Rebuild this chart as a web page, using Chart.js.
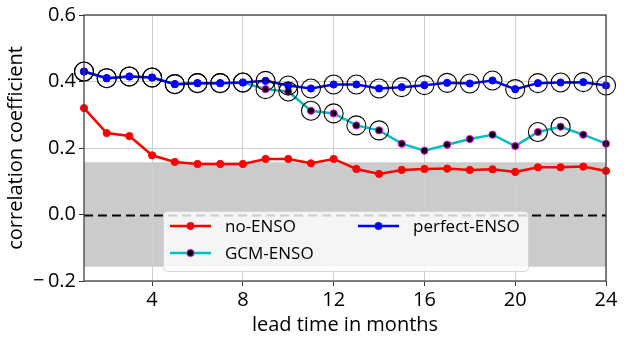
<!DOCTYPE html>
<html>
<head>
<meta charset="utf-8">
<script src="https://cdn.jsdelivr.net/npm/chart.js@4"></script>
<style>
  html, body { margin: 0; padding: 0; background: #fff; }
  #wrap { width: 624px; height: 337px; }
</style>
</head>
<body>
<div id="wrap"><canvas id="myChart" width="624" height="337"></canvas></div>
<script>
// lead time in months
const months = [1, 2, 3, 4, 5, 6, 7, 8, 9, 10, 11, 12, 13, 14, 15, 16, 17, 18, 19, 20, 21, 22, 23, 24];

const noEnso = [0.320, 0.245, 0.236, 0.178, 0.158, 0.152, 0.152, 0.152, 0.167, 0.167, 0.154, 0.167,
                0.137, 0.122, 0.134, 0.137, 0.138, 0.134, 0.136, 0.128, 0.142, 0.142, 0.144, 0.131];
const gcmEnso = [0.430, 0.410, 0.415, 0.412, 0.392, 0.395, 0.395, 0.397, 0.377, 0.370, 0.312, 0.304,
                 0.268, 0.253, 0.213, 0.192, 0.210, 0.227, 0.240, 0.206, 0.248, 0.264, 0.240, 0.213];
const perfectEnso = [0.430, 0.410, 0.415, 0.412, 0.392, 0.395, 0.395, 0.397, 0.402, 0.388, 0.379, 0.391,
                     0.391, 0.379, 0.383, 0.389, 0.396, 0.394, 0.403, 0.377, 0.395, 0.397, 0.398, 0.388];

// open circles mark significant skill (1 = circled)
const gcmSignif = [1, 1, 1, 1, 1, 1, 1, 1, 1, 1, 1, 1, 1, 1, 0, 0, 0, 0, 0, 0, 1, 1, 0, 0];
const perfectSignif = [1, 1, 1, 1, 1, 1, 1, 1, 1, 1, 1, 1, 1, 1, 1, 1, 1, 1, 1, 1, 1, 1, 1, 1];

// grey band = noise level
const noiseLevel = 0.157;

const xTicks = [4, 8, 12, 16, 20, 24];
const yTicks = [-0.2, 0.0, 0.2, 0.4, 0.6];

const FONT = "'Open Sans', 'Noto Sans', sans-serif";

function pts(arr) {
    return months.map((m, i) => ({ x: m, y: arr[i] }));
}
function circled(arr, flags) {
    return months.map((m, i) => ({ x: m, y: flags[i] ? arr[i] : null }));
}

const series = [
    { label: 'no-ENSO', data: noEnso, line: '#ff0000', fill: '#ff0000', edge: '#ff0000' },
    { label: 'GCM-ENSO', data: gcmEnso, line: '#00bfbf', fill: '#000000', edge: '#ff00ff' },
    { label: 'perfect-ENSO', data: perfectEnso, line: '#0000ff', fill: '#0000ff', edge: '#0000ff' }
];

// chart.js paints lower "order" on top
const datasets = series.map((s, i) => ({
    label: s.label,
    data: pts(s.data),
    order: 10 - i,
    borderColor: s.line,
    backgroundColor: s.fill,
    pointBackgroundColor: s.fill,
    pointBorderColor: s.edge,
    pointBorderWidth: 1,
    pointRadius: 3.6,
    borderWidth: 2.5,
    tension: 0,
    clip: false
}));

datasets.push({
    label: 'sig-gcm',
    data: circled(gcmEnso, gcmSignif),
    order: 2,
    showLine: false,
    pointRadius: 9.5,
    pointBorderColor: '#000',
    pointBorderWidth: 1.1,
    pointBackgroundColor: 'rgba(0,0,0,0)',
    clip: false
});
datasets.push({
    label: 'sig-perfect',
    data: circled(perfectEnso, perfectSignif),
    order: 1,
    showLine: false,
    pointRadius: 9.5,
    pointBorderColor: '#000',
    pointBorderWidth: 1.1,
    pointBackgroundColor: 'rgba(0,0,0,0)',
    clip: false
});

// grey band under the grid
const bandPlugin = {
    id: 'band',
    beforeDraw(chart) {
        const { ctx, chartArea: a, scales: { y } } = chart;
        const top = y.getPixelForValue(noiseLevel);
        const bot = y.getPixelForValue(-noiseLevel);
        ctx.save();
        ctx.fillStyle = '#cbcbcb';
        ctx.fillRect(a.left, top, a.right - a.left, bot - top);
        ctx.restore();
    },
    beforeDatasetsDraw(chart) {
        const { ctx, chartArea: a, scales: { y } } = chart;
        const y0 = Math.round(y.getPixelForValue(0)) + 0.5;
        ctx.save();
        ctx.strokeStyle = '#000';
        ctx.lineWidth = 2;
        ctx.setLineDash([9, 5]);
        ctx.beginPath();
        ctx.moveTo(a.left, y0);
        ctx.lineTo(a.right, y0);
        ctx.stroke();
        ctx.restore();
    }
};

// frame + legend on top of the lines
const framePlugin = {
    id: 'frame',
    afterDatasetsDraw(chart) {
        const { ctx, chartArea: a } = chart;
        ctx.save();
        ctx.strokeStyle = '#444';
        ctx.lineWidth = 1.3;
        ctx.strokeRect(a.left, a.top, a.right - a.left, a.bottom - a.top);
        ctx.restore();
    },
    afterDraw(chart) {
        const ctx = chart.ctx;
        const bx = 163, by = 211, bw = 365, bh = 60, r = 4;
        ctx.save();
        ctx.beginPath();
        ctx.roundRect(bx + 0.5, by + 0.5, bw, bh, r);
        ctx.fillStyle = 'rgba(255,255,255,0.8)';
        ctx.fill();
        ctx.strokeStyle = '#d6d6d6';
        ctx.lineWidth = 1;
        ctx.stroke();

        const entries = [
            { s: series[0], x: 170, y: 226 },
            { s: series[1], x: 170, y: 253 },
            { s: series[2], x: 358, y: 226 }
        ];
        ctx.font = '17px ' + FONT;
        ctx.textBaseline = 'middle';
        ctx.textAlign = 'left';
        for (const e of entries) {
            ctx.strokeStyle = e.s.line;
            ctx.lineWidth = 2.5;
            ctx.beginPath();
            ctx.moveTo(e.x, e.y);
            ctx.lineTo(e.x + 41, e.y);
            ctx.stroke();
            ctx.beginPath();
            ctx.arc(e.x + 20.5, e.y, 3.6, 0, Math.PI * 2);
            ctx.fillStyle = e.s.fill;
            ctx.fill();
            ctx.strokeStyle = e.s.edge;
            ctx.lineWidth = 1;
            ctx.stroke();
            ctx.fillStyle = '#000';
            ctx.fillText(e.s.label, e.x + 55, e.y + 1);
        }
        ctx.restore();
    }
};

function fmtY(v) {
    const t = Math.abs(v).toFixed(1);
    return v < -1e-9 ? '\u2212\u2009' + t : t;
}

new Chart(document.getElementById('myChart'), {
    type: 'line',
    data: { datasets: datasets },
    options: {
        responsive: false,
        animation: false,
        layout: { padding: { top: 12, right: 18, left: 0, bottom: 0 } },
        plugins: {
            legend: { display: false },
            tooltip: { enabled: false }
        },
        scales: {
            x: {
                type: 'linear',
                min: 1,
                max: 24,
                afterBuildTicks: s => { s.ticks = xTicks.map(v => ({ value: v })); },
                afterFit: s => { s.height = 56; },
                grid: { color: '#cfcfcf', lineWidth: 1, tickColor: '#333', tickLength: 5 },
                border: { display: false },
                ticks: { color: '#000', font: { family: FONT, size: 20 }, padding: 2, maxRotation: 0 },
                title: { display: true, text: 'lead time in months', color: '#000',
                         font: { family: FONT, size: 20 }, padding: { top: 0, bottom: 0 } }
            },
            y: {
                min: -0.2,
                max: 0.6,
                afterBuildTicks: s => { s.ticks = yTicks.map(v => ({ value: v })); },
                afterFit: s => { s.width = 84; },
                grid: { color: '#cfcfcf', lineWidth: 1, tickColor: '#333', tickLength: 5 },
                border: { display: false },
                ticks: { color: '#000', font: { family: FONT, size: 20 }, padding: 3, callback: v => fmtY(v) },
                title: { display: true, text: 'correlation coefficient', color: '#000',
                         font: { family: FONT, size: 20 }, padding: { top: 4, bottom: 0 } }
            }
        }
    },
    plugins: [bandPlugin, framePlugin]
});
</script>
</body>
</html>
